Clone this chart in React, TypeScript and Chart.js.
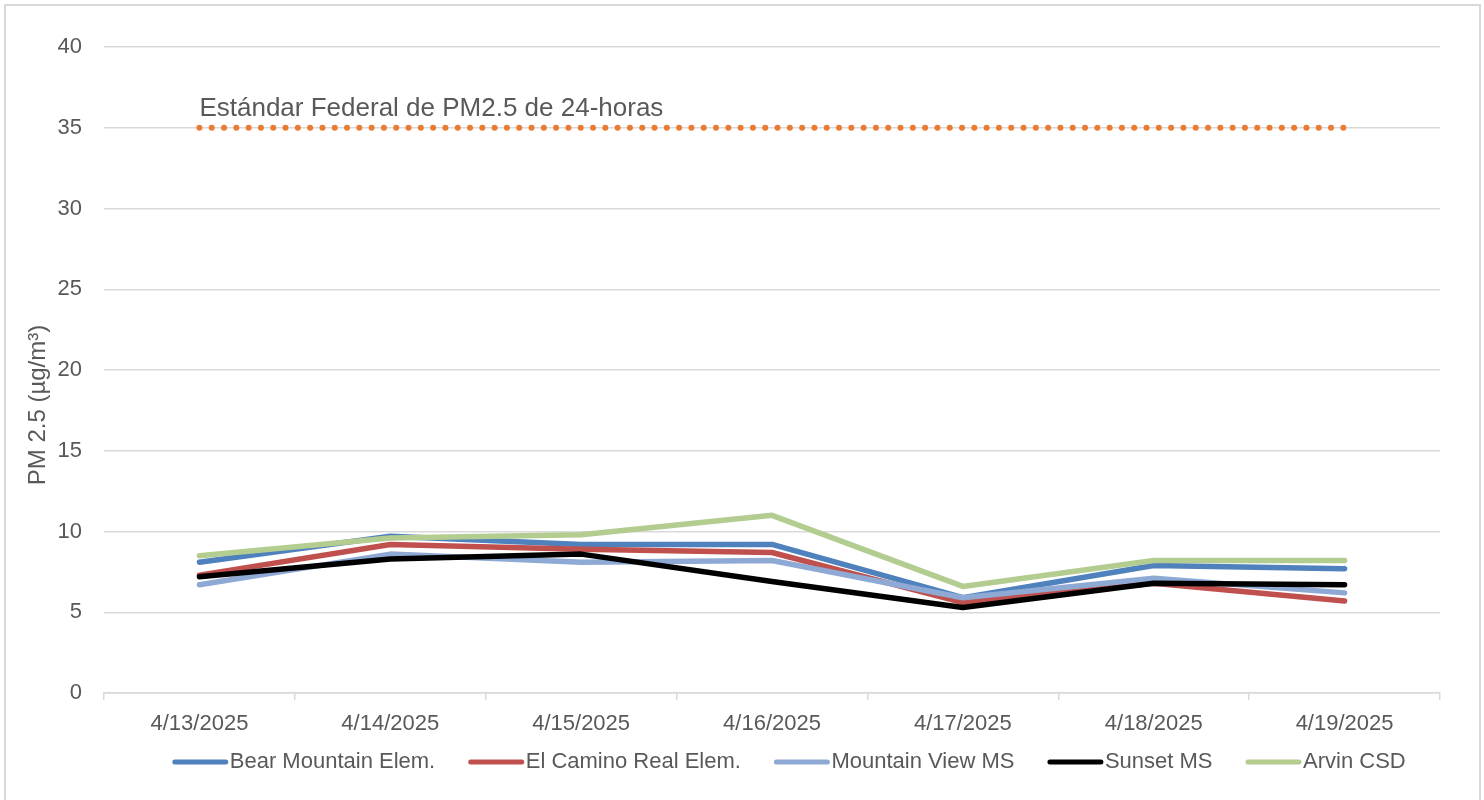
import React, { useEffect, useRef } from "react";
import { Chart, registerables } from "chart.js";

Chart.register(...registerables);

const categories = ["4/13/2025", "4/14/2025", "4/15/2025", "4/16/2025", "4/17/2025", "4/18/2025", "4/19/2025"];
const bearMountain = [8.1, 9.7, 9.2, 9.2, 5.9, 7.9, 7.7];
const elCamino = [7.3, 9.2, 8.9, 8.7, 5.6, 6.8, 5.7];
const mountainView = [6.7, 8.6, 8.1, 8.2, 5.9, 7.1, 6.2];
const sunset = [7.2, 8.3, 8.6, 6.9, 5.3, 6.8, 6.7];
const arvin = [8.5, 9.6, 9.8, 11.0, 6.6, 8.2, 8.2];
const federalStandard = [35, 35, 35, 35, 35, 35, 35];
const standardLabel = "Estándar Federal de PM2.5 de 24-horas";
const yTitle = "PM 2.5 (µg/m³)";

const FONT = "'Liberation Sans', Arial, sans-serif";
const TEXT = "#595959";
const GRID = "#d9d9d9";

const series = [
  { label: "Bear Mountain Elem.", data: bearMountain, color: "#4F81BD", order: 5 },
  { label: "El Camino Real Elem.", data: elCamino, color: "#C0504D", order: 4 },
  { label: "Mountain View MS", data: mountainView, color: "#8FA9D5", order: 3 },
  { label: "Sunset MS", data: sunset, color: "#000000", order: 2 },
  { label: "Arvin CSD", data: arvin, color: "#B3CC90", order: 1 },
];

const overlayPlugin = {
  id: "overlay",
  afterDraw(chart: any) {
    const { ctx, chartArea, scales } = chart;
    ctx.save();
    // outer border
    ctx.strokeStyle = GRID;
    ctx.lineWidth = 2;
    ctx.strokeRect(5, 5, chart.width - 9, chart.height + 10);
    // standard label
    const x0 = scales.x.getPixelForValue(0);
    const y35 = scales.y.getPixelForValue(35);
    ctx.fillStyle = TEXT;
    ctx.font = `26px ${FONT}`;
    ctx.textAlign = "left";
    ctx.textBaseline = "alphabetic";
    ctx.fillText(standardLabel, x0, y35 - 12);

    // legend
    ctx.font = `22px ${FONT}`;
    ctx.textBaseline = "middle";
    const lineLen = 51;
    const textGap = 6.5;
    const itemGap = 33;
    const widths = series.map((s) => lineLen + textGap + ctx.measureText(s.label).width);
    const total = widths.reduce((a, b) => a + b, 0) + itemGap * (series.length - 1);
    let lx = (chartArea.left + chartArea.right) / 2 + 17 - total / 2;
    const ly = chartArea.bottom + 69;
    series.forEach((s, i) => {
      ctx.strokeStyle = s.color;
      ctx.lineWidth = 5;
      ctx.lineCap = "round";
      ctx.beginPath();
      ctx.moveTo(lx + 2.5, ly);
      ctx.lineTo(lx + 2.5 + lineLen, ly);
      ctx.stroke();
      ctx.fillStyle = TEXT;
      ctx.fillText(s.label, lx + lineLen + textGap, ly);
      lx += widths[i] + itemGap;
    });

    // y title
    ctx.translate(38, (chartArea.top + chartArea.bottom) / 2 + 35);
    ctx.rotate(-Math.PI / 2);
    ctx.font = `24px ${FONT}`;
    ctx.textAlign = "center";
    ctx.textBaseline = "middle";
    ctx.fillStyle = TEXT;
    ctx.fillText(yTitle, 0, 0);
    ctx.restore();
  },
};

export default function App() {
  const ref = useRef<HTMLCanvasElement>(null);
  useEffect(() => {
    if (!ref.current) return;
    const chart = new Chart(ref.current, {
      type: "line",
      data: {
        labels: categories,
        datasets: [
          ...series.map((s) => ({
            label: s.label,
            data: s.data,
            borderColor: s.color,
            backgroundColor: s.color,
            borderWidth: 5.5,
            pointRadius: 0,
            borderCapStyle: "round" as const,
            borderJoinStyle: "round" as const,
            tension: 0,
            order: s.order,
          })),
          {
            label: "standard",
            data: federalStandard,
            borderColor: "#E97B32",
            backgroundColor: "#E97B32",
            borderWidth: 6,
            borderDash: [0, 12.3],
            borderCapStyle: "round" as const,
            pointRadius: 0,
            order: 0,
          },
        ],
      },
      options: {
        animation: false,
        responsive: true,
        maintainAspectRatio: false,
        layout: { padding: { left: 19, right: 44, top: 47, bottom: 57 } },
        plugins: {
          tooltip: { enabled: false },
          legend: { display: false },
        },
        scales: {
          x: {
            offset: true,
            grid: {
              offset: true,
              drawOnChartArea: false,
              drawTicks: true,
              tickLength: 7,
              color: GRID,
              lineWidth: 1.5,
            },
            border: { display: true, color: GRID, width: 1.5 },
            ticks: { font: { family: FONT, size: 22 }, color: TEXT, padding: 11, maxRotation: 0 },
            afterFit: (s: any) => {
              s.height = 50;
            },
          },
          y: {
            min: 0,
            max: 40,
            ticks: { stepSize: 5, font: { family: FONT, size: 22 }, color: TEXT, padding: 22 },
            grid: { color: GRID, lineWidth: 1.5, drawTicks: false },
            border: { display: false },
            afterFit: (s: any) => {
              s.width = 85;
            },
          },
        },
      },
      plugins: [overlayPlugin],
    });
    return () => chart.destroy();
  }, []);
  return (
    <div style={{ position: "fixed", left: 0, top: 0, width: 1484, height: 800, background: "#fff" }}>
      <canvas ref={ref} />
    </div>
  );
}
